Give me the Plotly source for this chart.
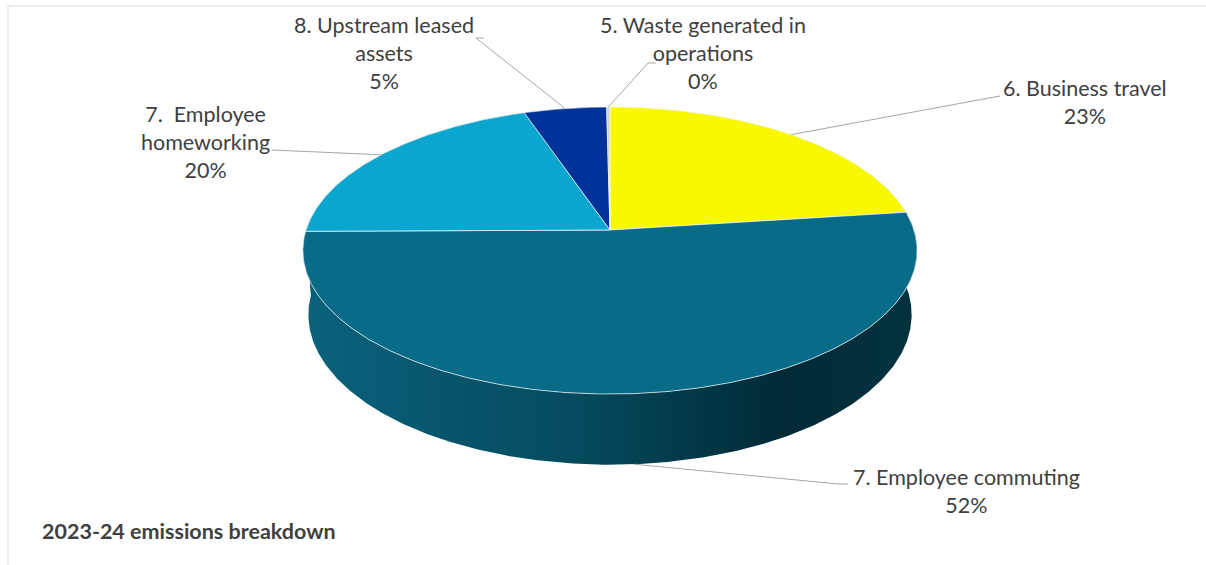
import numpy as np
import plotly.graph_objects as go

# ---------------- data ----------------
categories = ["6. Business travel", "7. Employee commuting", "7.  Employee homeworking",
              "8. Upstream leased assets", "5. Waste generated in operations"]
label_lines = [["6. Business travel"], ["7. Employee commuting"], ["7.  Employee", "homeworking"],
               ["8. Upstream leased", "assets"], ["5. Waste generated in", "operations"]]
values = [23.0, 52.0, 20.0, 5.0, 0.2]
title_text = "2023-24 emissions breakdown"

top_colors = ["#f8f800", "#086b87", "#0aa6cf", "#00339a", "#d0d0d0"]
side_scales = [
    [[0, "#b8b800"], [1, "#6e6e00"]],
    [[0, "#0a627c"], [0.45, "#054a5e"], [0.78, "#012a35"], [1, "#03323f"]],
    [[0, "#087a99"], [1, "#044a5e"]],
    [[0, "#002670"], [1, "#001a4d"]],
    [[0, "#5f5f5f"], [1, "#3f3f3f"]],
]

# ---------------- geometry (layout constants) ----------------
W, H = 1206, 565
cx, cy = 610, 230
R = 304.0
elev = np.radians(27.55)
dist = 1886.0
depth = 73.0


def proj(phi_deg, z):
    phi = np.radians(phi_deg)
    X = R * np.sin(phi)
    Y = R * np.cos(phi)
    Yp = Y * np.cos(elev) - z * np.sin(elev)
    Zp = Y * np.sin(elev) + z * np.cos(elev)
    s = dist / (dist + Yp)
    return cx + X * s, cy - Zp * s


total = sum(values)
fracs = [v / total for v in values]
starts = np.cumsum([0] + fracs[:-1]) * 360
ends = np.cumsum(fracs) * 360
pcts = [f"{round(100 * f)}%" for f in fracs]

fig = go.Figure()

# side walls (drawn first, top faces cover the hidden parts)
order = sorted(range(len(values)), key=lambda i: -abs(((starts[i] + ends[i]) / 2) - 180))
for i in order:
    a0, a1 = starts[i], ends[i]
    n = max(4, int((a1 - a0) * 2))
    ang = np.linspace(a0, a1, n)
    tx, ty = proj(ang, 0.0)
    bx, by = proj(ang[::-1], -depth)
    xs = np.concatenate([tx, bx, tx[:1]])
    ys = np.concatenate([ty, by, ty[:1]])
    fig.add_trace(go.Scatter(
        x=xs, y=ys, mode="lines", fill="toself",
        fillgradient=dict(type="horizontal", colorscale=side_scales[i]),
        line=dict(width=0, color="rgba(0,0,0,0)"),
        hoverinfo="skip", showlegend=False))

# top faces
for i in range(len(values)):
    a0, a1 = starts[i], ends[i]
    n = max(4, int((a1 - a0) * 2))
    ang = np.linspace(a0, a1, n)
    ax_, ay_ = proj(ang, 0.0)
    xs = np.concatenate([[cx], ax_, [cx]])
    ys = np.concatenate([[cy], ay_, [cy]])
    fig.add_trace(go.Scatter(
        x=xs, y=ys, mode="lines", fill="toself", fillcolor=top_colors[i],
        line=dict(width=0.8, color="rgba(255,255,255,0.85)"),
        hoverinfo="text", text=f"{categories[i]}: {pcts[i]}", showlegend=False))

# labels (positions are layout constants)
label_pos = [(1085, 102), (966, 491), (205, 142), (384, 53), (703, 53)]
label_hook = [[(1000, 96)], [(848, 484), (838, 484)], [(272, 150)],
              [(484, 38), (476, 38)], [(656, 63), (648, 63)]]
text_color = "#404040"
font_family = "Lato, Carlito, Calibri, sans-serif"

for i in range(len(values)):
    mid = (starts[i] + ends[i]) / 2
    if 100 < mid < 260:
        axp, ayp = proj(mid, -depth)
    else:
        axp, ayp = proj(mid, 0.0)
    pts = label_hook[i] + [(axp, ayp)]
    fig.add_trace(go.Scatter(
        x=[p[0] for p in pts], y=[p[1] for p in pts], mode="lines",
        line=dict(color="#a6a6a6", width=1), hoverinfo="skip", showlegend=False))
    txt = "<br>".join(label_lines[i] + [pcts[i]])
    fig.add_annotation(x=label_pos[i][0], y=label_pos[i][1], xref="x", yref="y",
                       text=txt, showarrow=False, xanchor="center", yanchor="middle",
                       align="center", font=dict(family=font_family, size=21.5, color=text_color))

fig.add_annotation(x=40, y=531, xref="x", yref="y", text=f"<b>{title_text}</b>",
                   showarrow=False, xanchor="left", yanchor="middle",
                   font=dict(family=font_family, size=21.5, color=text_color))

# chart border (top and left visible)
fig.add_shape(type="line", x0=8, y0=6, x1=W, y1=6, xref="x", yref="y",
              line=dict(color="#d9d9d9", width=1))
fig.add_shape(type="line", x0=8, y0=6, x1=8, y1=H, xref="x", yref="y",
              line=dict(color="#d9d9d9", width=1))

fig.update_layout(
    width=W, height=H, margin=dict(l=0, r=0, t=0, b=0),
    paper_bgcolor="white", plot_bgcolor="white",
    xaxis=dict(range=[0, W], visible=False, fixedrange=True),
    yaxis=dict(range=[H, 0], visible=False, fixedrange=True),
    showlegend=False,
)

fig.write_html("out.html", config={"displayModeBar": False},
               post_script="document.body.style.margin='0';document.body.style.overflow='hidden';")
